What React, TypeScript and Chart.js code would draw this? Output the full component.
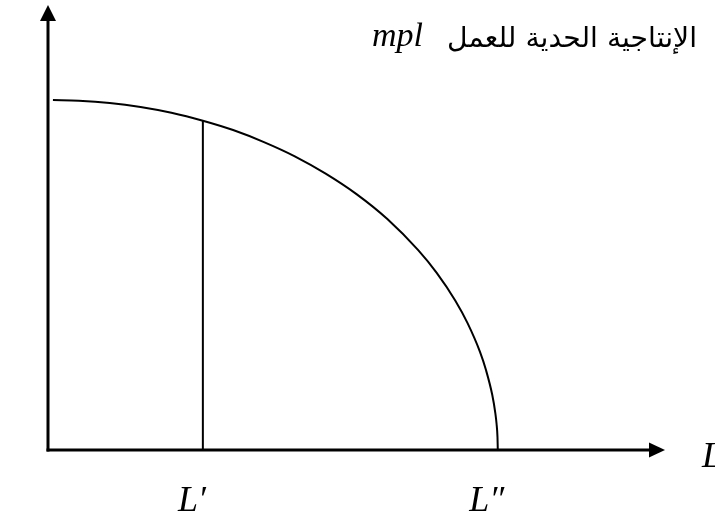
import React, { useEffect, useRef } from "react";
import { Chart, registerables } from "chart.js";

Chart.register(...registerables);

// Labour input (x) and marginal product of labour (y)
const curveL = [0.8, 5, 10, 15, 20, 25.1, 30, 35, 40, 45, 50, 55, 60, 63, 66, 68, 70, 71, 72, 72.5, 72.7, 72.85, 72.9];
const curveMPL = [78.65, 78.5, 78.0, 77.1, 75.8, 74.0, 71.9, 69.2, 66.0, 62.1, 57.5, 51.9, 44.9, 39.8, 33.6, 28.5, 22.1, 17.9, 12.4, 8.3, 5.9, 2.9, 0];

const markerL = [25.1, 25.1];
const markerMPL = [0, 74.0];

const tickValues = [25.1, 72.9];
const tickLabels = ["L\u2032", "L\u2033"];

const titleArabic = "الإنتاجية الحدية للعمل";
const titleLatin = "mpl";
const xAxisLabel = "L";

const axesPlugin = {
  id: "axesArrows",
  afterDraw(chart: any) {
    const { ctx, chartArea } = chart;
    const { left, right, top, bottom } = chartArea;
    ctx.save();
    ctx.strokeStyle = "#000";
    ctx.fillStyle = "#000";
    ctx.lineWidth = 3;
    // y axis
    ctx.beginPath();
    ctx.moveTo(left, bottom + 1.5);
    ctx.lineTo(left, top + 14);
    ctx.stroke();
    ctx.beginPath();
    ctx.moveTo(left, top);
    ctx.lineTo(left - 8, top + 16);
    ctx.lineTo(left + 8, top + 16);
    ctx.closePath();
    ctx.fill();
    // x axis
    ctx.beginPath();
    ctx.moveTo(left - 1.5, bottom);
    ctx.lineTo(right - 14, bottom);
    ctx.stroke();
    ctx.beginPath();
    ctx.moveTo(right, bottom);
    ctx.lineTo(right - 16, bottom - 7.5);
    ctx.lineTo(right - 16, bottom + 7.5);
    ctx.closePath();
    ctx.fill();

    // x axis name
    ctx.font = 'italic 36px "Liberation Serif"';
    ctx.textAlign = "left";
    ctx.textBaseline = "alphabetic";
    ctx.fillText(xAxisLabel, right + 37, bottom + 17);

    // title: Arabic (right) + mpl (left)
    const arabicRight = 697;
    ctx.textAlign = "right";
    let size = 28;
    ctx.font = `${size}px "DejaVu Sans"`;
    const w = ctx.measureText(titleArabic).width;
    size = Math.max(18, Math.min(34, (size * 250) / w));
    ctx.font = `${size}px "DejaVu Sans"`;
    ctx.fillText(titleArabic, arabicRight, 47);
    ctx.textAlign = "left";
    ctx.font = 'italic 34px "Liberation Serif"';
    ctx.fillText(titleLatin, 372, 46);
    ctx.restore();
  },
};

export default function App() {
  const canvasRef = useRef<HTMLCanvasElement | null>(null);

  useEffect(() => {
    document.body.style.margin = "0";
    const canvas = canvasRef.current;
    if (!canvas) return;
    const chart = new Chart(canvas, {
      type: "line",
      data: {
        datasets: [
          {
            data: curveL.map((x, i) => ({ x, y: curveMPL[i] })),
            borderColor: "#000",
            borderWidth: 2,
            pointRadius: 0,
            cubicInterpolationMode: "monotone",
            fill: false,
          },
          {
            data: markerL.map((x, i) => ({ x, y: markerMPL[i] })),
            borderColor: "#000",
            borderWidth: 2,
            pointRadius: 0,
            fill: false,
          },
        ],
      },
      options: {
        responsive: false,
        animation: false,
        events: [],
        layout: { padding: { left: 48, right: 50, top: 5, bottom: 0 } },
        plugins: {
          legend: { display: false },
          tooltip: { enabled: false },
          title: { display: false },
        },
        scales: {
          x: {
            type: "linear",
            min: 0,
            max: 100,
            grid: { display: false, drawTicks: false },
            border: { display: false },
            afterBuildTicks: (scale: any) => {
              scale.ticks = tickValues.map((v) => ({ value: v }));
            },
            afterFit: (scale: any) => {
              scale.height = 67;
            },
            ticks: {
              autoSkip: false,
              maxRotation: 0,
              padding: 30,
              labelOffset: -11,
              color: "#000",
              font: { family: "Liberation Serif", style: "italic", size: 36 },
              callback: (value: any) => {
                const idx = tickValues.indexOf(Number(value));
                return idx >= 0 ? tickLabels[idx] : "";
              },
            },
          },
          y: {
            type: "linear",
            min: 0,
            max: 100,
            display: false,
          },
        },
      },
      plugins: [axesPlugin],
    } as any);
    return () => chart.destroy();
  }, []);

  return (
    <div style={{ width: 715, height: 517 }}>
      <canvas ref={canvasRef} width={715} height={517} />
    </div>
  );
}
